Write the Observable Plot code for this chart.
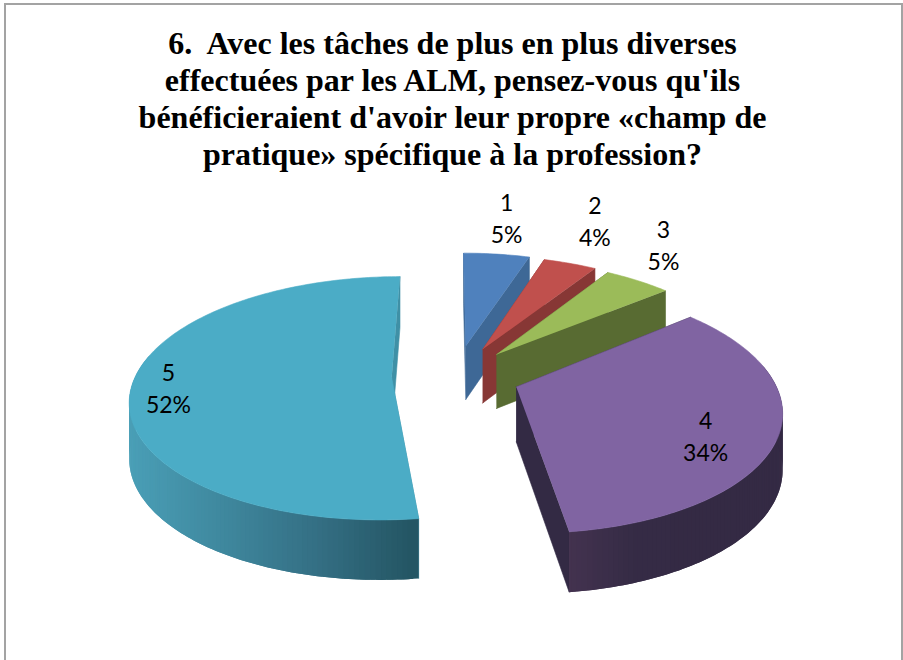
<!DOCTYPE html>
<html lang="fr">
<head>
<meta charset="utf-8">
<script src="https://cdn.jsdelivr.net/npm/d3@7"></script>
<script src="https://cdn.jsdelivr.net/npm/@observablehq/plot@0.6"></script>
<style>
  html, body { margin: 0; padding: 0; background: #fff; }
  #page { position: relative; width: 903px; height: 660px; overflow: hidden; }
  #frame { position: absolute; left: 4px; top: 3px; width: 895px; height: 670px;
           border: 2px solid #a3a3a3; box-sizing: content-box; pointer-events: none; }
  #title { height: 175px; box-sizing: border-box; padding: 25px 0 0 2px; text-align: center;
           font: 700 32px/37px "Liberation Serif", serif; color: #000; white-space: pre; }
  #chart svg { display: block; }
</style>
</head>
<body>
<div id="page">
  <div id="frame"></div>
  <div id="title"></div>
  <div id="chart"></div>
</div>
<script>
// ---- data ----
const titleLines = [
  "6.  Avec les tâches de plus en plus diverses",
  "effectuées par les ALM, pensez-vous qu'ils",
  "bénéficieraient d'avoir leur propre «champ de",
  "pratique» spécifique à la profession?"
];
const categories = ["1", "2", "3", "4", "5"];
const shares = [5, 4, 5, 34, 52];

// ---- styling of the exploded 3-D pie ----
const topColors = ["#4f81bd", "#c0504d", "#9bbb59", "#8064a2", "#4bacc6"];
const edgeColors = ["#3e6896", "#873735", "#586b32", "#332a44", "#3f90a6"];
const rimRamps = [
  ["#3e6896"], ["#873735"], ["#586b32"],
  ["#443350", "#352b45", "#342a44", "#342a44"],
  ["#4a9fb7", "#3f889e", "#346f84", "#245563"]
];
const explosion = [0.27, 0.26, 0.25, 0.25, 0.25];
const labelRadius = [1.50, 1.59, 1.46, 0.762, 0.858];
const labelTurn = [-0.5, -3.2, -6.3, 7.6, -1.6];
const drawOrder = [0, 1, 2, 4, 3];

// ---- perspective camera for the pie plane ----
const camera = {vanishX: 449, horizon: -324.5, spanX: 0.366, spanY: 0.00024,
                originX: 0.0243, originY: 5.953, thickBase: 40.8, thickSlope: 0.0369};
const total = d3.sum(shares);
const rad = Math.PI / 180;

function project(wx, wy, lowered = false) {
  const U = camera.spanX * (camera.originX + wx);
  const V = camera.spanY * (camera.originY + wy);
  const x = camera.vanishX + U / V;
  let y = camera.horizon + 1 / V;
  if (lowered) y += camera.thickBase + camera.thickSlope * y;
  return {x, y};
}

let running = 0;
const slices = shares.map((s, i) => {
  const a0 = running / total * 360;
  running += s;
  const a1 = running / total * 360;
  const mid = (a0 + a1) / 2;
  return {i, a0, a1, mid,
          cx: explosion[i] * Math.sin(mid * rad),
          cy: explosion[i] * Math.cos(mid * rad)};
});
const rimPoint = (s, a, low) => project(s.cx + Math.sin(a * rad), s.cy + Math.cos(a * rad), low);
const apexPoint = (s, low) => project(s.cx, s.cy, low);

// Polygons are painted in the order they are added;
// facets of the outer wall are painted without a stroke so no seams show.
const rows = [];
let serial = 0;
const addPolygon = (color, stroke, points) => {
  const id = serial++;
  points.forEach(p => rows.push({id, color, stroke, x: p.x, y: p.y}));
};

for (const k of drawOrder) {
  const s = slices[k];
  const step = 1;
  const angles = d3.range(s.a0, s.a1, step).concat([s.a1]);
  // the two flat walls of the cut come first, the outer wall then lies over them
  for (const a of [s.a0, s.a1]) {
    addPolygon(edgeColors[k], edgeColors[k],
      [apexPoint(s, false), rimPoint(s, a, false), rimPoint(s, a, true), apexPoint(s, true)]);
  }
  // outer wall: only the facets that face the viewer
  const front = angles.filter(a => Math.cos(a * rad) < 0.2);
  if (front.length > 1) {
    const xs = front.map(a => rimPoint(s, a, false).x);
    const [xmin, xmax] = d3.extent(xs);
    const ramp = rimRamps[k].length > 1
      ? d3.piecewise(d3.interpolateRgb, rimRamps[k])
      : () => rimRamps[k][0];
    // painted from the far end of the arc inwards, each facet overlapping the next one
    const lastFacet = front.length - 2;
    d3.range(lastFacet, -1, -1).forEach(n => {
      const a = front[n], b = front[Math.min(n + 2, front.length - 1)];
      const pa = rimPoint(s, a, false), pm = rimPoint(s, front[n + 1], false);
      const t = ((pa.x + pm.x) / 2 - xmin) / (xmax - xmin);
      const c = d3.color(ramp(t)).formatHex();
      const span = angles.filter(v => v >= a && v <= b);
      addPolygon(c, "none",
        [...span.map(v => rimPoint(s, v, false)), ...span.slice().reverse().map(v => rimPoint(s, v, true))]);
    });
  }
  // top face
  addPolygon(topColors[k], topColors[k],
    [apexPoint(s, false), ...angles.map(a => rimPoint(s, a, false))]);
}

const labels = slices.map(s => {
  const a = (s.mid + labelTurn[s.i]) * rad;
  const p = project(s.cx + labelRadius[s.i] * Math.sin(a), s.cy + labelRadius[s.i] * Math.cos(a));
  return {x: p.x, y: p.y, text: `${categories[s.i]}\n${shares[s.i]}%`};
});

document.getElementById("title").textContent = titleLines.join("\n");

const chart = Plot.plot({
  width: 903,
  height: 485,
  margin: 0,
  x: {domain: [0, 903], axis: null},
  y: {domain: [660, 175], axis: null},
  color: {type: "identity"},
  style: {background: "transparent"},
  marks: [
    Plot.line(rows, {x: "x", y: "y", z: "id", fill: "color", stroke: "stroke",
                     strokeWidth: 0.6, curve: "linear"}),
    Plot.text(labels, {x: "x", y: "y", text: "text", fill: "#000", fontSize: 23,
                       fontFamily: "Lato, Carlito, sans-serif", lineHeight: 1.39,
                       textAnchor: "middle", lineAnchor: "middle"})
  ]
});
document.getElementById("chart").appendChild(chart);
</script>
</body>
</html>
